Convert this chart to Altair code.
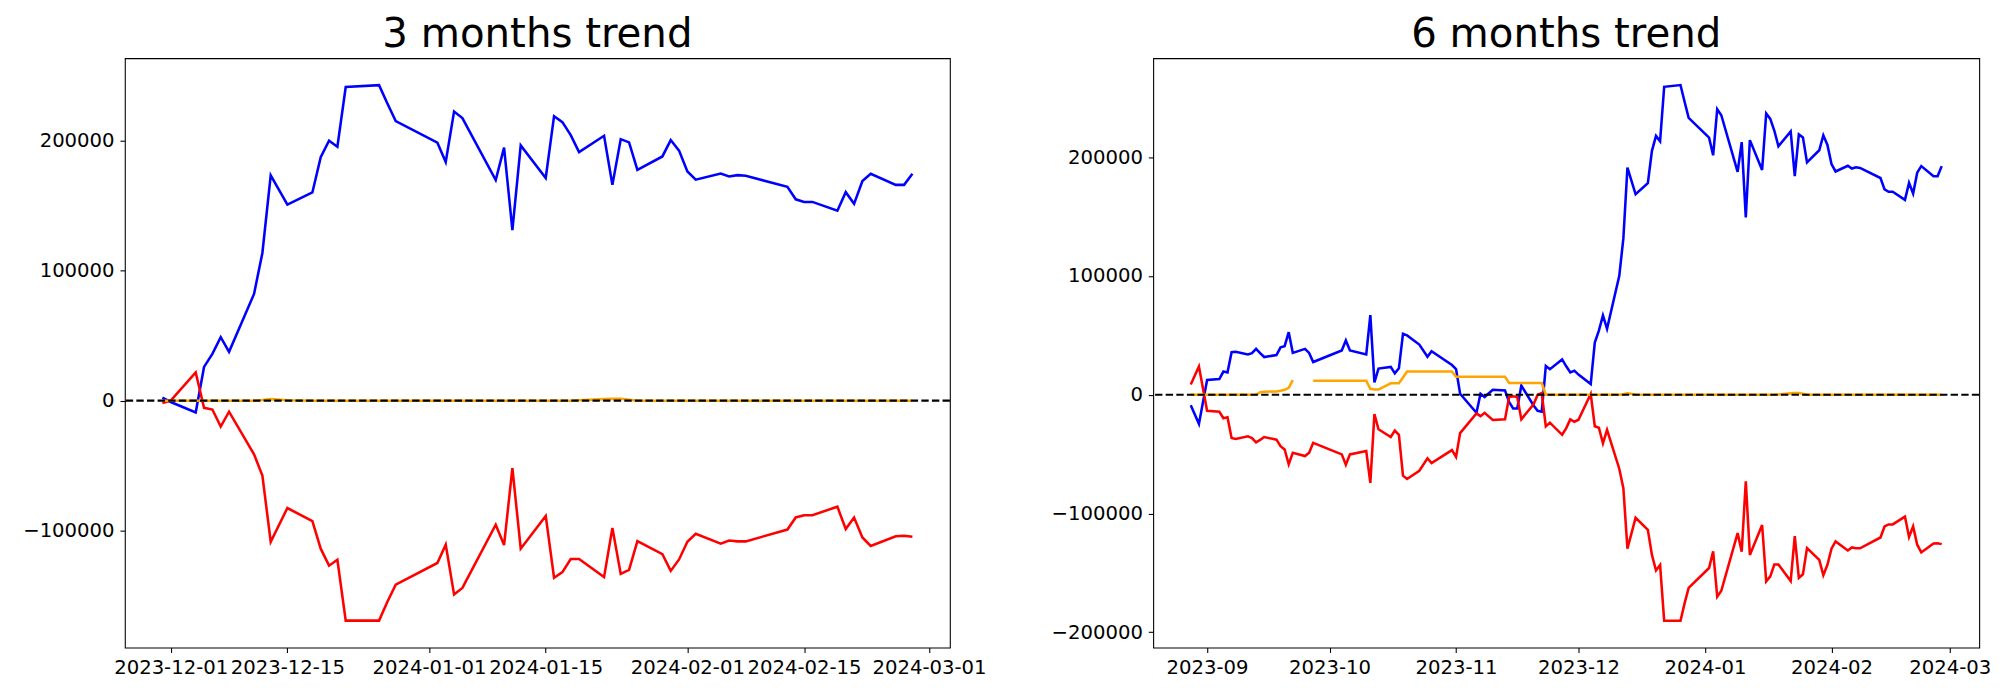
import altair as alt
import pandas as pd

# ---------------- 3 months panel ----------------
L_DATES = ["2023-11-30", "2023-12-01", "2023-12-04", "2023-12-05", "2023-12-06", "2023-12-07",
           "2023-12-08", "2023-12-11", "2023-12-12", "2023-12-13", "2023-12-15", "2023-12-18",
           "2023-12-19", "2023-12-20", "2023-12-21", "2023-12-22", "2023-12-26", "2023-12-27",
           "2023-12-28", "2024-01-02", "2024-01-03", "2024-01-04", "2024-01-05", "2024-01-09",
           "2024-01-10", "2024-01-11", "2024-01-12", "2024-01-15", "2024-01-16", "2024-01-17",
           "2024-01-18", "2024-01-19", "2024-01-22", "2024-01-23", "2024-01-24", "2024-01-25",
           "2024-01-26", "2024-01-29", "2024-01-30", "2024-01-31", "2024-02-01", "2024-02-02",
           "2024-02-05", "2024-02-06", "2024-02-07", "2024-02-08", "2024-02-13", "2024-02-14",
           "2024-02-15", "2024-02-16", "2024-02-19", "2024-02-20", "2024-02-21", "2024-02-22",
           "2024-02-23", "2024-02-26", "2024-02-27", "2024-02-28"]
L_BLUE = [2300, -1000, -9000, 26000, 36000, 48900, 37600, 82200, 113700, 173400, 150900, 160300,
          187500, 200100, 195500, 241400, 242900, 228800, 215200,
          198600, 183700, 222500, 217500, 169800, 194800, 131300, 196500, 171400, 219000, 214400,
          204400, 191300, 203900, 166100, 201300, 198800, 177700, 188000, 200600, 192500,
          176400, 170100, 174900, 172600, 173600, 173100, 164600, 155000, 153000, 153000, 146200,
          160500, 151500, 169100, 174600, 166100, 166100, 174600]
L_RED = [-1700, 0, 21700, -5500, -6800, -19900, -8500, -41300, -57700, -108600, -82600, -92700,
         -113900, -127000, -122400, -169300, -169300, -154700, -141600,
         -124900, -110800, -149100, -144100, -95500, -111100, -51900, -113900, -88700, -136300,
         -132000, -121900, -121900, -135800, -98000, -133300, -130200, -108100, -118100, -131000,
         -122200,
         -108600, -102500, -110100, -107600, -108300, -108300, -99200, -89900, -88200, -88200,
         -81600, -98800, -89900, -105300, -111800, -104300, -104000, -104800]
L_ORANGE = [0, 0, 0, 0, 0, 0, 0, 0, 500, 1200, 300, 0, 0, 0, 0, 0, 0, 0, 0,
            0, 0, 0, 0, 0, 0, 0, 0, 0, 0, 0, 0, 300, 1200, 1400, 1500, 800, 0, 0, 0, 0,
            0, 0, 0, 0, 0, 0, 0, 0, 0, 0, 0, 0, 0, 0, 0, 0, 0, 0]

# ---------------- 6 months panel ----------------
R_DATES = ["2023-08-28", "2023-08-30", "2023-09-01", "2023-09-04", "2023-09-05", "2023-09-06",
           "2023-09-07", "2023-09-08", "2023-09-11", "2023-09-12", "2023-09-13", "2023-09-14",
           "2023-09-15", "2023-09-18", "2023-09-19", "2023-09-20", "2023-09-21", "2023-09-22",
           "2023-09-25", "2023-09-26", "2023-09-27", "2023-10-04", "2023-10-05", "2023-10-06",
           "2023-10-10", "2023-10-11", "2023-10-12", "2023-10-13", "2023-10-16", "2023-10-17",
           "2023-10-18", "2023-10-19", "2023-10-20", "2023-10-23", "2023-10-25", "2023-10-26",
           "2023-10-31", "2023-11-01", "2023-11-02", "2023-11-06", "2023-11-07", "2023-11-08",
           "2023-11-10", "2023-11-13", "2023-11-14", "2023-11-15", "2023-11-16", "2023-11-17",
           "2023-11-20", "2023-11-21", "2023-11-22", "2023-11-23", "2023-11-24", "2023-11-27",
           "2023-11-28", "2023-11-29",
           "2023-11-30", "2023-12-01", "2023-12-04", "2023-12-05", "2023-12-06", "2023-12-07",
           "2023-12-08", "2023-12-11", "2023-12-12", "2023-12-13", "2023-12-15", "2023-12-18",
           "2023-12-19", "2023-12-20", "2023-12-21", "2023-12-22", "2023-12-26", "2023-12-27",
           "2023-12-28", "2024-01-02", "2024-01-03", "2024-01-04", "2024-01-05", "2024-01-09",
           "2024-01-10", "2024-01-11", "2024-01-12", "2024-01-15", "2024-01-16", "2024-01-17",
           "2024-01-18", "2024-01-19", "2024-01-22", "2024-01-23", "2024-01-24", "2024-01-25",
           "2024-01-26", "2024-01-29", "2024-01-30", "2024-01-31", "2024-02-01", "2024-02-02",
           "2024-02-05", "2024-02-06", "2024-02-07", "2024-02-08", "2024-02-13", "2024-02-14",
           "2024-02-15", "2024-02-16", "2024-02-19", "2024-02-20", "2024-02-21", "2024-02-22",
           "2024-02-23", "2024-02-26", "2024-02-27", "2024-02-28"]
R_BLUE = [-8800, -24500, 12400, 13300, 19600, 18800, 35900, 36200, 34000, 35100, 38700, 35100,
          31800, 33400, 40000, 40900, 52700, 35300, 38700, 35300, 27600, 37300, 45800, 37300,
          34000, 67100, 10500, 22100, 23500, 18000, 22300, 51400, 50000, 42300, 32000, 36700,
          25100, 21600, 900, -15200, 900, -1900, 4200, 3600, -6000, -11600, -11600, 7700,
          -9000, -13500, -14300, 24300, 21600, 29800, 24000, 18800,
          20300, 17000, 9000, 44000, 54000, 66900, 55600, 100200, 131700, 191400, 168900, 178300,
          205500, 218100, 213500, 259400, 260900, 246800, 233200,
          216600, 201700, 240500, 235500, 187800, 212800, 149300, 214500, 189400, 237000, 232400,
          222400, 209300, 221900, 184100, 219300, 216800, 195700, 206000, 218600, 210500,
          194400, 188100, 192900, 190600, 191600, 191100, 182600, 173000, 171000, 171000, 164200,
          178500, 169500, 187100, 192600, 184100, 184100, 192600]
R_RED = [8600, 23800, -13500, -14300, -19800, -19000, -36400, -37200, -35000, -36400, -40000,
         -38000, -35600, -37800, -43300, -46100, -58500, -48800, -51600, -48800, -40500, -50200,
         -59000, -50200, -47400, -74200, -16300, -29000, -35600, -30100, -33700, -68100, -70900,
         -64000, -53500, -57600, -46600, -52300, -32300, -15700, -18000, -15200, -21200, -20700,
         -1900, -1300, -1900, -20700, -8000, 0, 1500, -26700, -23500, -33700, -28100, -20700,
         -22700, -21000, 700, -26500, -27800, -40900, -29500, -62300, -78700, -129600, -103600,
         -113700, -134900, -148000, -143400, -190300, -190300, -175700, -162600,
         -145900, -131800, -170100, -165100, -116500, -132100, -72900, -134900, -109700, -157300,
         -153000, -142900, -142900, -156800, -119000, -154300, -151200, -129100, -139100, -152000,
         -143200,
         -129600, -123500, -131100, -128600, -129300, -129300, -120200, -110900, -109200, -109200,
         -102600, -119800, -110900, -126300, -132800, -125300, -125000, -125800]
R_ORANGE = [0, 0, 0, 0, 0, 0, 0, 0, 0, 0, 0, 2200, 2500, 2800, 3500, 4200, 5800, 12400,
            None, None, 11900, 11900, 11900, 11900, 11900, 5000, 4400, 4400, 9700, 9700, 9700,
            14600, 19600, 19600, 19600, 19600, 19600, 15200, 15200, 15200, 15200, 15200, 15200,
            15200, 10000, 10000, 10000, 10000, 10000, 10000, 10000, 0, 0, 0, 0, 0,
            0, 0, 0, 0, 0, 0, 0, 0, 500, 1200, 300, 0, 0, 0, 0, 0, 0, 0, 0,
            0, 0, 0, 0, 0, 0, 0, 0, 0, 0, 0, 0, 300, 1200, 1400, 1500, 800, 0, 0, 0, 0,
            0, 0, 0, 0, 0, 0, 0, 0, 0, 0, 0, 0, 0, 0, 0, 0, 0, 0]

L_YTICKS = [-100000, 0, 100000, 200000]
R_YTICKS = [-200000, -100000, 0, 100000, 200000]
L_XTICKS = [(2023, 12, 1), (2023, 12, 15), (2024, 1, 1), (2024, 1, 15), (2024, 2, 1),
            (2024, 2, 15), (2024, 3, 1)]
R_XTICKS = [(2023, 9, 1), (2023, 10, 1), (2023, 11, 1), (2023, 12, 1), (2024, 1, 1),
            (2024, 2, 1), (2024, 3, 1)]

SERIES = ["blue", "red", "orange"]
COLORS = ["#0000ff", "#ff0000", "#ffa500"]
FONT = "DejaVu Sans"


def long_df(dates, blue, red, orange):
    rows = []
    for name, vals in zip(SERIES, [blue, red, orange]):
        seg = 0
        for d, v in zip(dates, vals):
            if v is None:
                seg += 1
                continue
            rows.append({"date": d, "value": v, "series": name, "seg": f"{name}{seg}"})
    return pd.DataFrame(rows)


def dt(y, m, d, h=0, mi=0):
    return alt.DateTime(year=y, month=m, date=d, hours=h, minutes=mi, utc=True)


def panel(df, title, xdomain, xticks, xfmt, ydomain, yticks, w):
    lines = alt.Chart(df).mark_line(strokeWidth=2.6).encode(
        x=alt.X("date:T",
                scale=alt.Scale(type="utc", domain=xdomain, nice=False),
                axis=alt.Axis(values=[dt(*t) for t in xticks],
                              labelExpr=f"utcFormat(datum.value, '{xfmt}')",
                              title=None, labelOverlap=False, labelFlush=False, grid=False)),
        y=alt.Y("value:Q",
                scale=alt.Scale(domain=ydomain, nice=False, zero=False),
                axis=alt.Axis(values=yticks, format="d", title=None, grid=False)),
        color=alt.Color("series:N", scale=alt.Scale(domain=SERIES, range=COLORS), legend=None),
        detail="seg:N",
    )
    zero = alt.Chart(pd.DataFrame({"zero": [0]})).mark_rule(
        color="black", strokeDash=[7.5, 3.3], strokeWidth=2.2
    ).encode(y="zero:Q")
    return alt.layer(lines, zero).properties(
        width=w, height=600,
        title=alt.TitleParams(title, fontSize=41, font=FONT, fontWeight="normal",
                              anchor="middle", color="black", baseline="alphabetic", offset=-30),
    )


left = panel(long_df(L_DATES, L_BLUE, L_RED, L_ORANGE), "3 months trend",
             [dt(2023, 11, 25, 12), dt(2024, 3, 3, 12)], L_XTICKS, "%Y-%m-%d",
             [-190000, 263600], L_YTICKS, 840)
right = panel(long_df(R_DATES, R_BLUE, R_RED, R_ORANGE), "6 months trend",
              [dt(2023, 8, 18, 19, 12), dt(2024, 3, 8, 4, 48)], R_XTICKS, "%Y-%m",
              [-212900, 283500], R_YTICKS, 841)

chart = alt.hconcat(left, right, spacing=64).properties(
    padding={"left": 14, "top": 0, "right": 0, "bottom": 0},
    background="white",
).configure_view(
    stroke="black", strokeWidth=1.1
).configure_axis(
    domain=False, tickColor="black", tickSize=5, tickWidth=1.1, labelColor="black",
    labelFont=FONT, labelFontSize=20, labelPadding=5, grid=False
).configure_axisY(
    minExtent=100, maxExtent=100, labelPadding=6
).configure_axisX(
    minExtent=28, maxExtent=28
)

chart.save("out.html", embed_options={"renderer": "svg", "actions": False})
